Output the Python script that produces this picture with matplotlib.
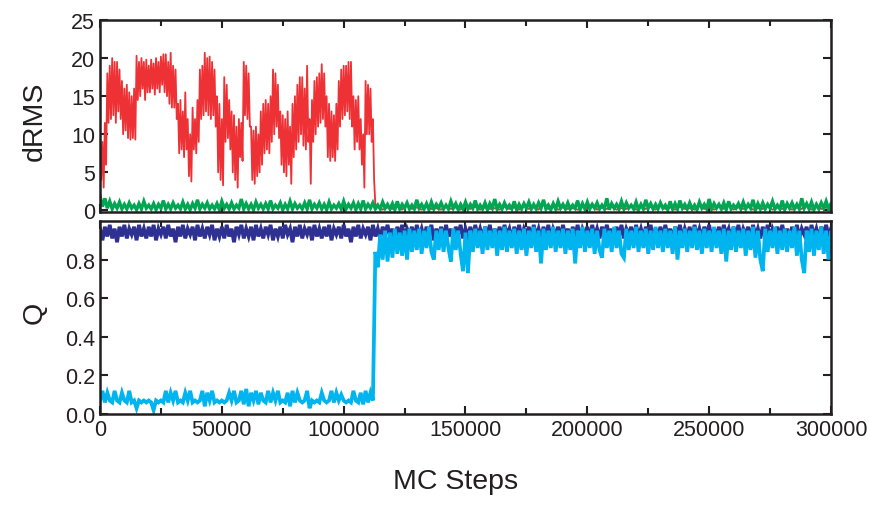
import numpy as np
import matplotlib
matplotlib.use("Agg")
import matplotlib.pyplot as plt
from matplotlib.ticker import MultipleLocator

plt.rcParams['font.family'] = ['Liberation Sans', 'DejaVu Sans']

RED_END = 113000
RED_POST_START = 114000
X_END = 300000

# dRMS (red), sampled every 500 MC steps up to the transition
red_pre = [10.5, 4, 9, 3, 11.5, 6, 18, 11.5, 19, 12, 20, 12.5, 19.5, 11.5, 19.5, 13, 18.5, 12, 17, 10,
           16, 10.5, 16.5, 9.5, 15.5, 9.3, 15, 9.5, 16, 9.3, 20.3, 14.5, 19.5, 15, 20, 16, 19.5, 14.5, 19.8, 15.5,
           19, 15.5, 19.8, 16, 19.3, 15.2, 20, 16, 19.5, 15.5, 20.2, 16.5, 20.5, 15.5, 20.5, 15, 19.5, 14, 20.7, 13.5,
           19, 13.5, 18.5, 12, 14, 7.5, 14.5, 8, 13, 7, 15.5, 8, 12, 4.5, 10, 3.8, 13.5, 8, 12, 7.5,
           14.5, 9, 18.5, 12, 19, 12.5, 20.7, 13, 20, 12.5, 20.2, 12, 19.5, 12.5, 18.5, 11, 15, 5, 14, 4,
           12, 3.3, 17.5, 9, 16.5, 9.5, 14.5, 8, 13, 5, 12.5, 4, 11, 3, 12, 7, 11.5, 6.5, 19.5, 12.5,
           19, 12, 18, 11, 11, 4, 10.5, 3.5, 11, 4.5, 10, 5, 13, 6, 14, 7.5, 14.5, 8, 14, 7.5,
           15, 9, 18.5, 10, 18, 11, 16.5, 9.5, 13, 6, 12.5, 5, 12, 4.5, 13, 6, 11, 3.5, 14, 7,
           15, 8, 16.5, 9, 17.5, 10, 17.5, 8.5, 16, 8, 19, 9, 12, 3.5, 14.5, 9, 17, 10, 17.5, 11,
           18, 11.5, 19.2, 12, 18, 11, 15, 7, 14, 6.5, 13, 7, 12.5, 6.5, 14, 8, 17, 11, 18.5, 12,
           19, 12.5, 19, 13, 19.5, 12, 19.5, 11, 15, 8, 14.5, 9, 15, 8, 12, 6, 10, 3, 17, 10,
           16.5, 10, 16, 9, 12, 4, 0.8]

red_post = [0.6, 0.1, 0.4, 0.2, 0.5, 0.1, 0.9, 0.2, 0.4, 0.1,
            0.5, 0.2, 0.3, 0.1, 0.6, 0.2, 0.4, 0.1, 0.8, 0.2,
            0.5, 0.1, 0.4, 0.2, 0.3, 0.1, 0.5, 0.2, 0.4, 0.1,
            0.6, 0.2, 0.4, 0.1, 1.2, 0.2, 0.5, 0.1, 0.4, 0.2,
            0.3, 0.1, 0.5, 0.2, 0.9, 0.1, 0.4, 0.2, 0.5, 0.1,
            0.3, 0.2, 0.6, 0.1, 0.4, 0.2, 0.5, 0.1, 0.8, 0.2,
            0.4, 0.1, 0.5, 0.2, 0.3, 0.1, 0.6, 0.2, 0.4, 0.1,
            0.5, 0.2, 1.0, 0.1, 0.4, 0.2, 0.5, 0.1, 0.3, 0.2,
            0.6, 0.1, 0.4, 0.2, 0.5, 0.1, 0.4, 0.2, 0.8, 0.1,
            0.5, 0.2, 0.4, 0.1]

green = [1.9, 0.5, 1.6, 0.3, 1.2, 0.2, 0.9, 0.3, 1.1, 0.2,
         0.8, 0.2, 1.0, 0.3, 0.7, 0.1, 0.9, 0.2, 1.2, 0.3,
         0.7, 0.2, 0.9, 0.1, 0.8, 0.3, 1.3, 0.2, 0.8, 0.2,
         1.0, 0.3, 0.7, 0.2, 1.1, 0.2, 0.8, 0.1, 0.9, 0.3,
         1.4, 0.2, 0.8, 0.3, 1.0, 0.2, 0.7, 0.2, 0.9, 0.1,
         1.2, 0.3, 0.8, 0.2, 1.0, 0.2, 0.7, 0.3, 1.5, 0.2,
         0.9, 0.2, 0.8, 0.1, 1.1, 0.3, 0.8, 0.2, 0.9, 0.2,
         1.3, 0.2, 0.7, 0.3, 1.0, 0.1, 0.8, 0.2, 1.2, 0.2,
         0.9, 0.3, 0.7, 0.2, 1.0, 0.2, 1.4, 0.2, 0.8, 0.3,
         1.0, 0.2, 0.8, 0.1, 1.1, 0.2, 0.7, 0.3, 0.9, 0.2,
         1.2, 0.2, 0.8, 0.3, 1.0, 0.1, 0.9, 0.2, 1.3, 0.2,
         0.8, 0.3, 1.0, 0.2, 0.7, 0.2, 1.1, 0.3, 0.8, 0.2,
         0.9, 0.1, 1.2, 0.2, 0.8, 0.3, 1.0, 0.2, 0.7, 0.2,
         1.4, 0.3, 0.8, 0.2, 0.9, 0.1, 1.1, 0.2, 0.8, 0.3,
         1.0, 0.2, 0.7, 0.2, 1.2, 0.3, 0.9, 0.1, 0.8, 0.2,
         1.1, 0.2, 0.8, 0.3, 1.3, 0.2, 0.7, 0.2, 1.0, 0.1,
         0.9, 0.3, 1.5, 0.2, 0.8, 0.2, 1.0, 0.3, 0.7, 0.2,
         1.2, 0.1, 0.8, 0.2, 0.9, 0.3, 1.1, 0.2, 0.8, 0.2,
         1.0, 0.3, 1.4, 0.2, 0.7, 0.1, 0.9, 0.2, 1.2, 0.3,
         0.8, 0.2, 1.0, 0.2, 0.7, 0.3, 1.3, 0.1, 0.9, 0.2,
         1.1, 0.2, 0.8, 0.3, 1.0, 0.2, 0.7, 0.2, 1.6, 0.1,
         0.9, 0.3, 0.8, 0.2, 1.2, 0.2, 1.0, 0.3, 0.7, 0.2,
         1.1, 0.1, 0.8, 0.2, 1.4, 0.3, 0.9, 0.2, 0.8, 0.2,
         1.0, 0.3, 0.7, 0.1, 1.2, 0.2, 0.9, 0.2, 1.3, 0.3,
         0.8, 0.2, 1.0, 0.2, 0.7, 0.1, 1.1, 0.3, 0.8, 0.2,
         1.5, 0.2, 0.9, 0.3, 0.8, 0.2, 1.0, 0.1, 1.2, 0.2,
         0.7, 0.3, 0.9, 0.2, 1.1, 0.2, 0.8, 0.3, 1.4, 0.1,
         0.9, 0.2, 1.0, 0.2, 0.8, 0.3, 1.2, 0.2, 0.7, 0.2,
         1.3, 0.1, 0.9, 0.3, 1.0, 0.2, 0.8, 0.2, 1.6, 0.3,
         0.9, 0.2, 1.1, 0.1, 0.8, 0.2, 1.0, 0.3, 1.2, 0.2,
         0.9]

q_dark = [0.96, 0.90, 0.97, 0.92, 0.98, 0.91, 0.96, 0.89, 0.97, 0.92,
          0.98, 0.91, 0.96, 0.93, 0.97, 0.90, 0.98, 0.92, 0.96, 0.91,
          0.97, 0.92, 0.98, 0.90, 0.96, 0.93, 0.97, 0.91, 0.98, 0.92,
          0.96, 0.89, 0.97, 0.92, 0.98, 0.91, 0.96, 0.93, 0.97, 0.90,
          0.98, 0.92, 0.96, 0.91, 0.97, 0.93, 0.98, 0.90, 0.96, 0.92,
          0.97, 0.91, 0.98, 0.92, 0.96, 0.89, 0.97, 0.93, 0.98, 0.91,
          0.96, 0.92, 0.97, 0.90, 0.98, 0.92, 0.96, 0.91, 0.97, 0.93,
          0.98, 0.90, 0.96, 0.92, 0.97, 0.91, 0.98, 0.93, 0.96, 0.89,
          0.97, 0.92, 0.98, 0.91, 0.96, 0.93, 0.97, 0.90, 0.98, 0.92,
          0.96, 0.91, 0.97, 0.92, 0.98, 0.90, 0.96, 0.93, 0.97, 0.91,
          0.98, 0.92, 0.96, 0.89, 0.97, 0.92, 0.98, 0.91, 0.96, 0.93,
          0.97, 0.90, 0.98, 0.92, 0.96, 0.91, 0.97, 0.93, 0.98, 0.92,
          0.96, 0.90, 0.97, 0.92, 0.98, 0.91, 0.96, 0.93, 0.97, 0.90,
          0.98, 0.92, 0.96, 0.91, 0.97, 0.93, 0.98, 0.90, 0.96, 0.92,
          0.97, 0.91, 0.98, 0.92, 0.96, 0.90, 0.97, 0.93, 0.98, 0.91,
          0.96, 0.92, 0.97, 0.90, 0.98, 0.92, 0.96, 0.91, 0.97, 0.93,
          0.98, 0.90, 0.96, 0.92, 0.97, 0.91, 0.98, 0.93, 0.96, 0.90,
          0.97, 0.92, 0.98, 0.91, 0.96, 0.93, 0.97, 0.90, 0.98, 0.92,
          0.96, 0.91, 0.97, 0.92, 0.98, 0.90, 0.96, 0.93, 0.97, 0.91,
          0.98, 0.92, 0.96, 0.90, 0.97, 0.92, 0.98, 0.91, 0.96, 0.93,
          0.97, 0.90, 0.98, 0.92, 0.96, 0.91, 0.97, 0.93, 0.98, 0.92,
          0.96, 0.90, 0.97, 0.92, 0.98, 0.91, 0.96, 0.93, 0.97, 0.90,
          0.98, 0.92, 0.96, 0.91, 0.97, 0.93, 0.98, 0.90, 0.96, 0.92,
          0.97, 0.91, 0.98, 0.92, 0.96, 0.90, 0.97, 0.93, 0.98, 0.91,
          0.96, 0.92, 0.97, 0.90, 0.98, 0.92, 0.96, 0.91, 0.97, 0.93,
          0.98, 0.90, 0.96, 0.92, 0.97, 0.91, 0.98, 0.93, 0.96, 0.90,
          0.97, 0.92, 0.98, 0.91, 0.96, 0.93, 0.97, 0.90, 0.98, 0.92,
          0.96, 0.91, 0.97, 0.92, 0.98, 0.90, 0.96, 0.93, 0.97, 0.91,
          0.98, 0.92, 0.96, 0.90, 0.97, 0.92, 0.98, 0.91, 0.96, 0.93,
          0.97, 0.90, 0.98, 0.92, 0.96, 0.91, 0.97, 0.93, 0.98, 0.92,
          0.96]

q_light = [0.07, 0.12, 0.06, 0.11, 0.07, 0.06, 0.12, 0.07, 0.06, 0.11,
           0.07, 0.06, 0.12, 0.06, 0.07, 0.03, 0.07, 0.06, 0.07, 0.06,
           0.07, 0.06, 0.02, 0.07, 0.06, 0.07, 0.06, 0.12, 0.06, 0.11,
           0.07, 0.12, 0.06, 0.07, 0.06, 0.11, 0.07, 0.12, 0.06, 0.07,
           0.06, 0.07, 0.12, 0.04, 0.11, 0.07, 0.12, 0.06, 0.07, 0.06,
           0.07, 0.06, 0.07, 0.11, 0.07, 0.12, 0.06, 0.07, 0.12, 0.05,
           0.13, 0.04, 0.11, 0.07, 0.12, 0.05, 0.11, 0.07, 0.06, 0.12,
           0.06, 0.11, 0.07, 0.12, 0.06, 0.07, 0.06, 0.11, 0.04, 0.12,
           0.06, 0.11, 0.07, 0.06, 0.07, 0.12, 0.03, 0.07, 0.06, 0.07,
           0.06, 0.11, 0.07, 0.06, 0.07, 0.12, 0.06, 0.11, 0.07, 0.10,
           0.07, 0.06, 0.07, 0.06, 0.12, 0.07, 0.06, 0.11, 0.05, 0.12,
           0.06, 0.11, 0.07,
           0.84,
           0.76, 0.93, 0.80, 0.95, 0.79, 0.94,
           0.81, 0.96, 0.83, 0.94, 0.82, 0.95, 0.80, 0.96, 0.84, 0.95,
           0.85, 0.96, 0.83, 0.95, 0.86, 0.97, 0.84, 0.80, 0.95, 0.85,
           0.96, 0.84, 0.95, 0.86, 0.79, 0.96, 0.85, 0.95, 0.83, 0.74,
           0.94, 0.73, 0.95, 0.84, 0.96, 0.86, 0.95, 0.83, 0.97, 0.85,
           0.95, 0.86, 0.96, 0.82, 0.95, 0.85, 0.97, 0.84, 0.95, 0.86,
           0.96, 0.83, 0.95, 0.85, 0.96, 0.82, 0.95, 0.86, 0.97, 0.84,
           0.95, 0.78, 0.96, 0.85, 0.95, 0.86, 0.97, 0.84, 0.95, 0.86,
           0.96, 0.83, 0.95, 0.85, 0.96, 0.78, 0.95, 0.86, 0.97, 0.84,
           0.95, 0.86, 0.96, 0.83, 0.95, 0.85, 0.81, 0.96, 0.86, 0.95,
           0.84, 0.97, 0.86, 0.95, 0.83, 0.81, 0.96, 0.85, 0.95, 0.86,
           0.97, 0.84, 0.95, 0.86, 0.96, 0.83, 0.95, 0.85, 0.97, 0.86,
           0.95, 0.84, 0.96, 0.86, 0.95, 0.83, 0.97, 0.80, 0.95, 0.86,
           0.96, 0.84, 0.95, 0.86, 0.97, 0.85, 0.95, 0.83, 0.96, 0.86,
           0.95, 0.84, 0.97, 0.86, 0.95, 0.83, 0.96, 0.79, 0.95, 0.85,
           0.97, 0.84, 0.95, 0.86, 0.96, 0.82, 0.95, 0.85, 0.97, 0.81,
           0.95, 0.80, 0.74, 0.96, 0.84, 0.95, 0.86, 0.97, 0.83, 0.95,
           0.85, 0.96, 0.84, 0.95, 0.86, 0.97, 0.82, 0.95, 0.80, 0.73,
           0.95, 0.84, 0.96, 0.82, 0.95, 0.85, 0.97, 0.83, 0.95, 0.80,
           0.94]

x_ticks = [0, 50000, 100000, 150000, 200000, 250000, 300000]
x_ticklabels = ['0', '50000', '100000', '150000', '200000', '250000', '300000']
top_yticks = [0, 5, 10, 15, 20, 25]
bot_yticks = [0.0, 0.2, 0.4, 0.6, 0.8]
bot_yticklabels = ['0.0', '0.2', '0.4', '0.6', '0.8']

RED = '#EE3134'
GREEN = '#00A651'
DARK = '#2E3192'
LIGHT = '#00B4EF'
INK = '#231F20'

fig = plt.figure(figsize=(8.70, 5.06), dpi=100)
ax1 = fig.add_axes([100/870, 1-213/506, 731/870, 192/506])
ax2 = fig.add_axes([100/870, 1-415/506, 731/870, 193/506])

x_red_pre = np.linspace(0, RED_END, len(red_pre))
x_red_post = np.linspace(RED_POST_START, X_END, len(red_post))
x_red = np.concatenate([x_red_pre, x_red_post])
y_red = np.concatenate([red_pre, red_post])
x_green = np.linspace(0, X_END, len(green))
x_dark = np.linspace(0, X_END, len(q_dark))
x_light = np.linspace(0, X_END, len(q_light))

ax1.plot(x_red, y_red, color=RED, lw=1.3, zorder=2)
ax1.plot(x_green, green, color=GREEN, lw=2.4, zorder=3, solid_joinstyle='miter')
ax2.plot(x_dark, q_dark, color=DARK, lw=2.7, zorder=2, solid_joinstyle='miter')
ax2.plot(x_light, q_light, color=LIGHT, lw=2.7, zorder=3, solid_joinstyle='miter')

for ax in (ax1, ax2):
    ax.set_xlim(0, X_END)
    ax.set_xticks(x_ticks)
    ax.xaxis.set_minor_locator(MultipleLocator(25000))
    ax.tick_params(which='both', direction='in', top=True, right=True,
                   width=1.5, labelsize=15.5, colors=INK)
    ax.tick_params(which='major', length=6)
    ax.tick_params(which='minor', length=4)
    for s in ax.spines.values():
        s.set_linewidth(1.8)
        s.set_color(INK)
        s.set_zorder(5)

ax1.set_ylim(-0.2, 25)
ax1.set_yticks(top_yticks)
ax1.set_xticklabels([])
ax1.set_ylabel('dRMS', fontsize=20.5, color=INK)
ax1.yaxis.set_label_coords(-0.072, 0.48)

ax2.set_ylim(0, 1.0)
ax2.set_yticks(bot_yticks)
ax2.set_yticklabels(bot_yticklabels)
ax2.set_xticklabels(x_ticklabels)
ax2.set_ylabel('Q', fontsize=20.5, color=INK)
ax2.yaxis.set_label_coords(-0.072, 0.53)
ax2.set_xlabel('MC Steps', fontsize=20.5, color=INK, labelpad=20)
ax2.xaxis.label.set_x(0.487)

fig.savefig('out.png', dpi=100)
